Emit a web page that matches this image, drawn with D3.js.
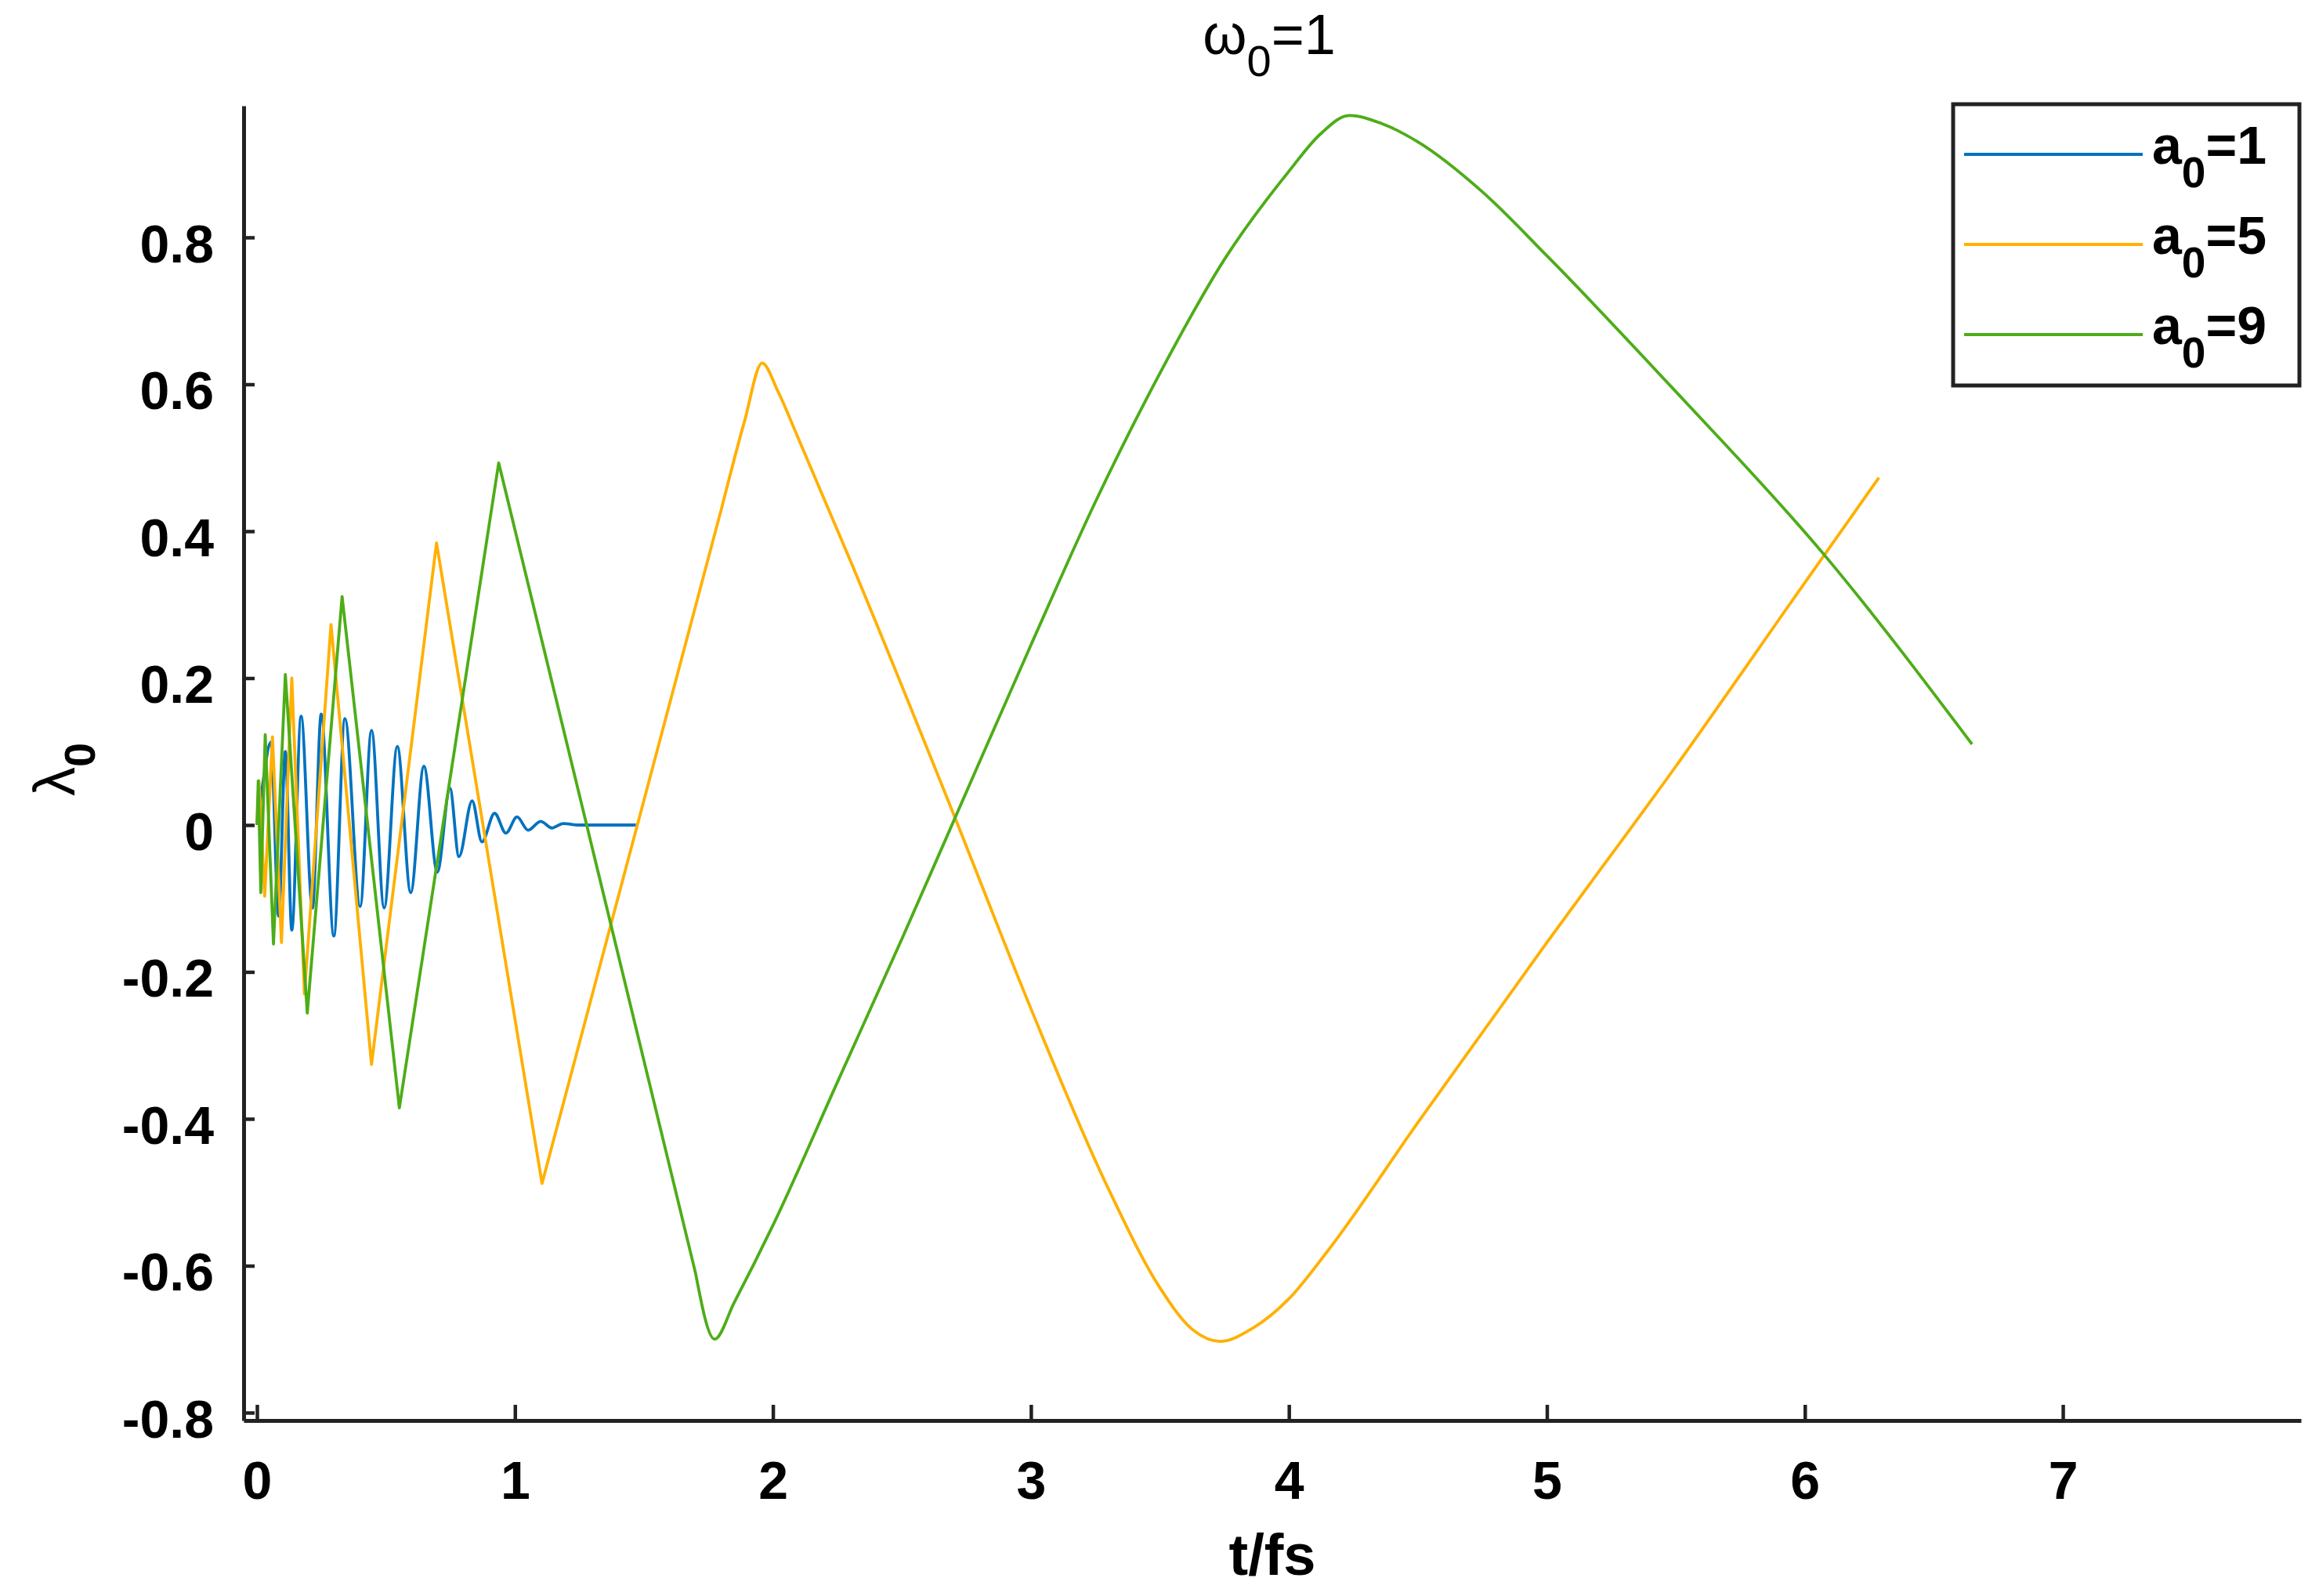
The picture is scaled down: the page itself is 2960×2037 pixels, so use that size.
<!DOCTYPE html>
<html>
<head>
<meta charset="utf-8">
<script src="https://cdn.jsdelivr.net/npm/d3@7"></script>
<style>
  html, body { margin: 0; padding: 0; background: #fff; }
  svg { display: block; }
  text { font-family: "Liberation Sans", Arial, Helvetica, sans-serif; fill: #000; }
</style>
</head>
<body>
<svg id="chart" width="2960" height="2037"></svg>
<script>
// ---------------- data ----------------
const seriesNames = ["1", "5", "9"];          // a0 values
const seriesColors = ["#0072C0", "#FFB000", "#4DAD18"];

// a0 = 1 (blue)
const tA1 = [0, 0.02, 0.054, 0.084, 0.11, 0.135, 0.171, 0.215, 0.249, 0.298, 0.341, 0.40, 0.444, 0.493,
             0.544, 0.596, 0.647, 0.699, 0.748, 0.783, 0.834, 0.872, 0.921, 0.965, 1.008, 1.051, 1.10,
             1.143, 1.187, 1.25, 1.469];
const lamA1 = [0, 0.05, 0.113, -0.124, 0.10, -0.143, 0.148, -0.113, 0.151, -0.151, 0.145, -0.111, 0.129,
               -0.113, 0.107, -0.092, 0.080, -0.064, 0.050, -0.043, 0.033, -0.023, 0.016, -0.011, 0.011,
               -0.007, 0.005, -0.004, 0.002, 0, 0];

// a0 = 5 (orange)
const tA5 = [0, 0.008, 0.03, 0.06, 0.095, 0.135, 0.184, 0.287, 0.444, 0.696, 1.105, 1.80, 1.89, 1.958, 2.02,
             2.1, 2.3, 2.7, 3.0, 3.3, 3.5, 3.62, 3.734, 3.86, 4.0, 4.15, 4.5, 5.0, 5.5, 6.0, 6.287];
const lamA5 = [0, 0.06, -0.097, 0.12, -0.16, 0.20, -0.23, 0.273, -0.326, 0.384, -0.488, 0.43, 0.55, 0.629, 0.59,
               0.525, 0.36, 0.015, -0.25, -0.495, -0.63, -0.685, -0.703, -0.685, -0.645, -0.58, -0.405, -0.16, 0.08, 0.33, 0.473];

// a0 = 9 (green)
const tA9 = [0, 0.005, 0.015, 0.032, 0.064, 0.11, 0.195, 0.33, 0.552, 0.937, 1.70, 1.774, 1.85,
             2.0, 2.25, 2.5, 2.70, 3.0, 3.25, 3.5, 3.75, 4.0, 4.12, 4.234, 4.36, 4.5, 4.75, 5.0, 5.5, 6.07, 6.648];
const lamA9 = [0, 0.06, -0.092, 0.123, -0.162, 0.205, -0.256, 0.311, -0.385, 0.493, -0.61, -0.70, -0.65,
               -0.545, -0.35, -0.155, 0.005, 0.245, 0.44, 0.615, 0.77, 0.89, 0.94, 0.966, 0.955, 0.93, 0.862, 0.775, 0.59, 0.37, 0.11];

// where each series changes from sharp (straight) turns to rounded turns
const smoothFrom = [0, 1.80, 1.70];

const xTicks = [0, 1, 2, 3, 4, 5, 6, 7];
const yTicks = [-0.8, -0.6, -0.4, -0.2, 0, 0.2, 0.4, 0.6, 0.8];
const xDomain = [-0.0516, 7.923];
const yDomain = [-0.8107, 0.9792];

// ---------------- layout ----------------
const svg = d3.select("#chart");
const mLeft = 311, mRight = 2937, mTop = 135, mBottom = 1813;
const x = d3.scaleLinear().domain(xDomain).range([mLeft, mRight]);
const y = d3.scaleLinear().domain(yDomain).range([mBottom, mTop]);
const axisColor = "#222";

const series = seriesNames.map((n, i) => ({
  name: n, color: seriesColors[i],
  t: [tA1, tA5, tA9][i], v: [lamA1, lamA5, lamA9][i], split: smoothFrom[i]
}));

const plot = svg.append("g");
series.forEach(s => {
  const pts = s.t.map((t, i) => [t, s.v[i]]);
  const sharp = pts.filter(d => d[0] <= s.split);
  const smooth = pts.filter(d => d[0] >= s.split);
  const lin = d3.line().x(d => x(d[0])).y(d => y(d[1])).curve(d3.curveLinear);
  const mono = d3.line().x(d => x(d[0])).y(d => y(d[1])).curve(d3.curveMonotoneX);
  const d = (sharp.length > 1 ? lin(sharp) : "") + (smooth.length > 1 ? mono(smooth) : "");
  plot.append("path")
    .attr("d", d)
    .attr("fill", "none")
    .attr("stroke", s.color)
    .attr("stroke-width", 3.8)
    .attr("stroke-linejoin", "round");
});

// axes
const fmtY = d => d === 0 ? "0" : d.toFixed(1);
const yAxis = d3.axisLeft(y).tickValues(yTicks).tickFormat(fmtY)
  .tickSizeInner(-14).tickSizeOuter(0).tickPadding(38);
const xAxis = d3.axisBottom(x).tickValues(xTicks).tickFormat(d => String(d))
  .tickSizeInner(-20).tickSizeOuter(0).tickPadding(52);

const gy = svg.append("g").attr("transform", `translate(${mLeft},0)`).call(yAxis);
const gx = svg.append("g").attr("transform", `translate(0,${mBottom})`).call(xAxis);
[gx, gy].forEach(g => {
  g.select(".domain").attr("stroke", axisColor).attr("stroke-width", 5);
  g.selectAll(".tick line").attr("stroke", axisColor).attr("stroke-width", 4.5);
  g.selectAll(".tick text")
    .attr("fill", "#000")
    .style("font-family", '"Liberation Sans", Arial, sans-serif')
    .style("font-size", "68px").style("font-weight", "bold");
});
gy.selectAll(".tick text").attr("dy", "0.46em");
gx.selectAll(".tick text").attr("dy", "0.71em");

// title
const title = svg.append("text")
  .attr("x", 1620).attr("y", 69).attr("text-anchor", "middle")
  .style("font-size", "72px");
title.append("tspan").text("ω");
title.append("tspan").attr("dy", 28).style("font-size", "56px").text("0");
title.append("tspan").attr("dy", -28).text("=1");

// x label
svg.append("text")
  .attr("x", 1624).attr("y", 2010).attr("text-anchor", "middle")
  .style("font-size", "74px").style("font-weight", "bold")
  .text("t/fs");

// y label
const ylab = svg.append("text")
  .attr("transform", "translate(95,982) rotate(-90)")
  .attr("text-anchor", "middle")
  .style("font-size", "74px");
ylab.append("tspan").text("λ");
ylab.append("tspan").attr("dy", 26).style("font-size", "56px").style("font-weight", "bold").text("0");

// legend
const lg = svg.append("g");
lg.append("rect")
  .attr("x", 2493).attr("y", 133).attr("width", 442).attr("height", 359)
  .attr("fill", "#fff").attr("stroke", axisColor).attr("stroke-width", 5);
const rowY = [197, 312, 427];
series.forEach((s, i) => {
  lg.append("line")
    .attr("x1", 2507).attr("x2", 2735)
    .attr("y1", rowY[i]).attr("y2", rowY[i])
    .attr("stroke", s.color).attr("stroke-width", 4);
  const tx = lg.append("text")
    .attr("x", 2747).attr("y", rowY[i] + 12)
    .style("font-size", "68px").style("font-weight", "bold");
  tx.append("tspan").text("a");
  tx.append("tspan").attr("dy", 30).style("font-size", "55px").text("0");
  tx.append("tspan").attr("dy", -30).text("=" + s.name);
});
</script>
</body>
</html>
